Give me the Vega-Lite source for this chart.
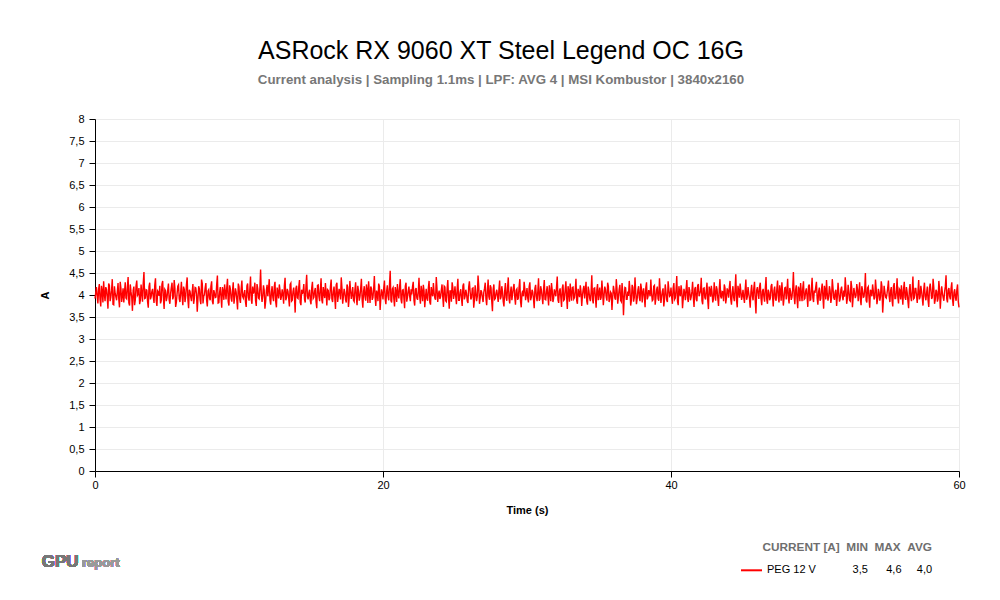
{
  "$schema": "https://vega.github.io/schema/vega-lite/v6.json",
  "width": 864,
  "height": 352,
  "autosize": {"type": "none"},
  "padding": {"left": 95, "top": 119, "right": 41, "bottom": 129},
  "background": "#ffffff",
  "config": {
    "view": {"stroke": null},
    "font": "Liberation Sans"
  },
  "title": {
    "text": "ASRock RX 9060 XT Steel Legend OC 16G",
    "subtitle": "Current analysis | Sampling 1.1ms | LPF: AVG 4 | MSI Kombustor | 3840x2160",
    "font": "Liberation Sans",
    "fontSize": 25,
    "fontWeight": "normal",
    "color": "#000000",
    "subtitleFont": "Liberation Sans",
    "subtitleFontSize": 13.3,
    "subtitleFontWeight": "bold",
    "subtitleColor": "#777777",
    "subtitlePadding": 9,
    "anchor": "middle",
    "dx": -26,
    "offset": 27
  },
  "resolve": {"axis": {"x": "independent", "y": "independent"}},
  "data": {"values": [
{"t":0,"v":3.92},{"t":0.1,"v":4.18},{"t":0.2,"v":3.81},{"t":0.3,"v":4.25},{"t":0.4,"v":3.74},{"t":0.5,"v":4.09},{"t":0.6,"v":4.31},{"t":0.7,"v":3.86},{"t":0.8,"v":4.12},{"t":0.9,"v":3.69},
{"t":1,"v":4.22},{"t":1.1,"v":3.95},{"t":1.2,"v":4.36},{"t":1.3,"v":3.78},{"t":1.4,"v":4.04},{"t":1.5,"v":3.88},{"t":1.6,"v":4.27},{"t":1.7,"v":3.72},{"t":1.8,"v":4.15},{"t":1.9,"v":3.98},
{"t":2,"v":3.83},{"t":2.1,"v":4.29},{"t":2.2,"v":3.91},{"t":2.3,"v":4.41},{"t":2.4,"v":3.76},{"t":2.5,"v":4.07},{"t":2.6,"v":3.64},{"t":2.7,"v":4.19},{"t":2.8,"v":3.89},{"t":2.9,"v":4.33},
{"t":3,"v":4.02},{"t":3.1,"v":3.79},{"t":3.2,"v":4.24},{"t":3.3,"v":3.85},{"t":3.4,"v":4.52},{"t":3.5,"v":3.93},{"t":3.6,"v":4.11},{"t":3.7,"v":3.71},{"t":3.8,"v":4.28},{"t":3.9,"v":3.96},
{"t":4,"v":4.14},{"t":4.1,"v":3.82},{"t":4.2,"v":4.38},{"t":4.3,"v":3.75},{"t":4.4,"v":4.06},{"t":4.5,"v":4.21},{"t":4.6,"v":3.87},{"t":4.7,"v":4.32},{"t":4.8,"v":3.68},{"t":4.9,"v":4.1},
{"t":5,"v":3.94},{"t":5.1,"v":4.26},{"t":5.2,"v":3.8},{"t":5.3,"v":4.17},{"t":5.4,"v":3.9},{"t":5.5,"v":4.34},{"t":5.6,"v":3.73},{"t":5.7,"v":4.03},{"t":5.8,"v":4.23},{"t":5.9,"v":3.84},
{"t":6,"v":4.3},{"t":6.1,"v":3.77},{"t":6.2,"v":4.13},{"t":6.3,"v":3.97},{"t":6.4,"v":4.4},{"t":6.5,"v":3.7},{"t":6.6,"v":4.08},{"t":6.7,"v":3.86},{"t":6.8,"v":4.25},{"t":6.9,"v":3.92},
{"t":7,"v":4.16},{"t":7.1,"v":3.62},{"t":7.2,"v":4.2},{"t":7.3,"v":3.89},{"t":7.4,"v":4.35},{"t":7.5,"v":3.81},{"t":7.6,"v":4.01},{"t":7.7,"v":4.27},{"t":7.8,"v":3.74},{"t":7.9,"v":4.12},
{"t":8,"v":3.88},{"t":8.1,"v":4.31},{"t":8.2,"v":3.79},{"t":8.3,"v":4.05},{"t":8.4,"v":3.95},{"t":8.5,"v":4.44},{"t":8.6,"v":3.83},{"t":8.7,"v":4.18},{"t":8.8,"v":3.71},{"t":8.9,"v":4.09},
{"t":9,"v":4.24},{"t":9.1,"v":3.9},{"t":9.2,"v":4.37},{"t":9.3,"v":3.76},{"t":9.4,"v":4.14},{"t":9.5,"v":3.85},{"t":9.6,"v":4.29},{"t":9.7,"v":3.96},{"t":9.8,"v":4.07},{"t":9.9,"v":3.67},
{"t":10,"v":4.19},{"t":10.1,"v":3.82},{"t":10.2,"v":4.33},{"t":10.3,"v":3.93},{"t":10.4,"v":4.11},{"t":10.5,"v":3.73},{"t":10.6,"v":4.26},{"t":10.7,"v":3.87},{"t":10.8,"v":4.42},{"t":10.9,"v":3.8},
{"t":11,"v":4.03},{"t":11.1,"v":4.28},{"t":11.2,"v":3.75},{"t":11.3,"v":4.15},{"t":11.4,"v":3.91},{"t":11.5,"v":4.58},{"t":11.6,"v":3.84},{"t":11.7,"v":4.22},{"t":11.8,"v":3.69},{"t":11.9,"v":4.1},
{"t":12,"v":3.97},{"t":12.1,"v":4.36},{"t":12.2,"v":3.78},{"t":12.3,"v":4.2},{"t":12.4,"v":3.86},{"t":12.5,"v":4.3},{"t":12.6,"v":3.72},{"t":12.7,"v":4.06},{"t":12.8,"v":4.24},{"t":12.9,"v":3.89},
{"t":13,"v":4.13},{"t":13.1,"v":3.8},{"t":13.2,"v":4.39},{"t":13.3,"v":3.94},{"t":13.4,"v":4.08},{"t":13.5,"v":3.74},{"t":13.6,"v":4.27},{"t":13.7,"v":3.88},{"t":13.8,"v":4.17},{"t":13.9,"v":3.6},
{"t":14,"v":4.21},{"t":14.1,"v":3.92},{"t":14.2,"v":4.34},{"t":14.3,"v":3.77},{"t":14.4,"v":4.02},{"t":14.5,"v":4.25},{"t":14.6,"v":3.83},{"t":14.7,"v":4.46},{"t":14.8,"v":3.9},{"t":14.9,"v":4.12},
{"t":15,"v":3.79},{"t":15.1,"v":4.3},{"t":15.2,"v":3.95},{"t":15.3,"v":4.16},{"t":15.4,"v":3.7},{"t":15.5,"v":4.23},{"t":15.6,"v":3.86},{"t":15.7,"v":4.38},{"t":15.8,"v":3.81},{"t":15.9,"v":4.05},
{"t":16,"v":4.27},{"t":16.1,"v":3.76},{"t":16.2,"v":4.1},{"t":16.3,"v":3.93},{"t":16.4,"v":4.35},{"t":16.5,"v":3.84},{"t":16.6,"v":4.19},{"t":16.7,"v":3.68},{"t":16.8,"v":4.28},{"t":16.9,"v":3.98},
{"t":17,"v":4.07},{"t":17.1,"v":4.4},{"t":17.2,"v":3.8},{"t":17.3,"v":4.14},{"t":17.4,"v":3.89},{"t":17.5,"v":4.24},{"t":17.6,"v":3.73},{"t":17.7,"v":4.32},{"t":17.8,"v":3.91},{"t":17.9,"v":4.18},
{"t":18,"v":3.85},{"t":18.1,"v":4.29},{"t":18.2,"v":3.77},{"t":18.3,"v":4.09},{"t":18.4,"v":3.96},{"t":18.5,"v":4.37},{"t":18.6,"v":3.71},{"t":18.7,"v":4.2},{"t":18.8,"v":3.87},{"t":18.9,"v":4.11},
{"t":19,"v":4.31},{"t":19.1,"v":3.82},{"t":19.2,"v":4.15},{"t":19.3,"v":3.94},{"t":19.4,"v":4.43},{"t":19.5,"v":3.75},{"t":19.6,"v":4.04},{"t":19.7,"v":4.26},{"t":19.8,"v":3.66},{"t":19.9,"v":4.13},
{"t":20,"v":3.9},{"t":20.1,"v":4.33},{"t":20.2,"v":3.79},{"t":20.3,"v":4.22},{"t":20.4,"v":3.88},{"t":20.5,"v":4.55},{"t":20.6,"v":3.83},{"t":20.7,"v":4.17},{"t":20.8,"v":3.74},{"t":20.9,"v":4.08},
{"t":21,"v":4.25},{"t":21.1,"v":3.92},{"t":21.2,"v":4.36},{"t":21.3,"v":3.81},{"t":21.4,"v":4.12},{"t":21.5,"v":3.7},{"t":21.6,"v":4.28},{"t":21.7,"v":3.95},{"t":21.8,"v":4.19},{"t":21.9,"v":3.86},
{"t":22,"v":4.01},{"t":22.1,"v":4.3},{"t":22.2,"v":3.76},{"t":22.3,"v":4.16},{"t":22.4,"v":3.89},{"t":22.5,"v":4.39},{"t":22.6,"v":3.8},{"t":22.7,"v":4.07},{"t":22.8,"v":4.23},{"t":22.9,"v":3.72},
{"t":23,"v":4.14},{"t":23.1,"v":3.87},{"t":23.2,"v":4.32},{"t":23.3,"v":3.78},{"t":23.4,"v":4.05},{"t":23.5,"v":4.27},{"t":23.6,"v":3.93},{"t":23.7,"v":4.41},{"t":23.8,"v":3.84},{"t":23.9,"v":4.1},
{"t":24,"v":3.96},{"t":24.1,"v":4.24},{"t":24.2,"v":3.73},{"t":24.3,"v":4.18},{"t":24.4,"v":3.85},{"t":24.5,"v":4.34},{"t":24.6,"v":3.69},{"t":24.7,"v":4.09},{"t":24.8,"v":4.29},{"t":24.9,"v":3.91},
{"t":25,"v":4.2},{"t":25.1,"v":3.79},{"t":25.2,"v":4.37},{"t":25.3,"v":3.88},{"t":25.4,"v":4.13},{"t":25.5,"v":3.75},{"t":25.6,"v":4.26},{"t":25.7,"v":3.97},{"t":25.8,"v":4.04},{"t":25.9,"v":3.82},
{"t":26,"v":4.31},{"t":26.1,"v":3.9},{"t":26.2,"v":4.15},{"t":26.3,"v":3.71},{"t":26.4,"v":4.22},{"t":26.5,"v":3.86},{"t":26.6,"v":4.44},{"t":26.7,"v":3.8},{"t":26.8,"v":4.11},{"t":26.9,"v":3.94},
{"t":27,"v":4.06},{"t":27.1,"v":4.28},{"t":27.2,"v":3.77},{"t":27.3,"v":4.35},{"t":27.4,"v":3.89},{"t":27.5,"v":4.17},{"t":27.6,"v":3.63},{"t":27.7,"v":4.24},{"t":27.8,"v":3.92},{"t":27.9,"v":4.12},
{"t":28,"v":3.84},{"t":28.1,"v":4.33},{"t":28.2,"v":3.96},{"t":28.3,"v":4.08},{"t":28.4,"v":3.74},{"t":28.5,"v":4.27},{"t":28.6,"v":3.87},{"t":28.7,"v":4.4},{"t":28.8,"v":3.81},{"t":28.9,"v":4.19},
{"t":29,"v":4.02},{"t":29.1,"v":4.25},{"t":29.2,"v":3.78},{"t":29.3,"v":4.14},{"t":29.4,"v":3.93},{"t":29.5,"v":4.36},{"t":29.6,"v":3.72},{"t":29.7,"v":4.1},{"t":29.8,"v":4.3},{"t":29.9,"v":3.88},
{"t":30,"v":4.16},{"t":30.1,"v":3.83},{"t":30.2,"v":4.29},{"t":30.3,"v":3.95},{"t":30.4,"v":4.07},{"t":30.5,"v":3.7},{"t":30.6,"v":4.23},{"t":30.7,"v":3.86},{"t":30.8,"v":4.38},{"t":30.9,"v":3.91},
{"t":31,"v":4.11},{"t":31.1,"v":3.79},{"t":31.2,"v":4.34},{"t":31.3,"v":3.89},{"t":31.4,"v":4.2},{"t":31.5,"v":3.76},{"t":31.6,"v":4.05},{"t":31.7,"v":4.27},{"t":31.8,"v":3.84},{"t":31.9,"v":4.13},
{"t":32,"v":3.97},{"t":32.1,"v":4.42},{"t":32.2,"v":3.82},{"t":32.3,"v":4.15},{"t":32.4,"v":3.73},{"t":32.5,"v":4.24},{"t":32.6,"v":3.9},{"t":32.7,"v":4.31},{"t":32.8,"v":3.68},{"t":32.9,"v":4.09},
{"t":33,"v":4.26},{"t":33.1,"v":3.87},{"t":33.2,"v":4.18},{"t":33.3,"v":3.94},{"t":33.4,"v":4.37},{"t":33.5,"v":3.8},{"t":33.6,"v":4.03},{"t":33.7,"v":4.22},{"t":33.8,"v":3.75},{"t":33.9,"v":4.12},
{"t":34,"v":3.92},{"t":34.1,"v":4.3},{"t":34.2,"v":3.78},{"t":34.3,"v":4.1},{"t":34.4,"v":3.86},{"t":34.5,"v":4.45},{"t":34.6,"v":3.81},{"t":34.7,"v":4.16},{"t":34.8,"v":3.71},{"t":34.9,"v":4.25},
{"t":35,"v":4.04},{"t":35.1,"v":3.89},{"t":35.2,"v":4.33},{"t":35.3,"v":3.77},{"t":35.4,"v":4.19},{"t":35.5,"v":3.95},{"t":35.6,"v":4.28},{"t":35.7,"v":3.84},{"t":35.8,"v":4.07},{"t":35.9,"v":3.66},
{"t":36,"v":4.21},{"t":36.1,"v":3.93},{"t":36.2,"v":4.36},{"t":36.3,"v":3.8},{"t":36.4,"v":4.13},{"t":36.5,"v":3.88},{"t":36.6,"v":4.27},{"t":36.7,"v":3.54},{"t":36.8,"v":4.17},{"t":36.9,"v":3.9},
{"t":37,"v":4.08},{"t":37.1,"v":4.32},{"t":37.2,"v":3.76},{"t":37.3,"v":4.23},{"t":37.4,"v":3.85},{"t":37.5,"v":4.4},{"t":37.6,"v":3.79},{"t":37.7,"v":4.11},{"t":37.8,"v":3.94},{"t":37.9,"v":4.26},
{"t":38,"v":3.83},{"t":38.1,"v":4.15},{"t":38.2,"v":3.72},{"t":38.3,"v":4.29},{"t":38.4,"v":3.96},{"t":38.5,"v":4.06},{"t":38.6,"v":4.35},{"t":38.7,"v":3.87},{"t":38.8,"v":4.2},{"t":38.9,"v":3.78},
{"t":39,"v":4.12},{"t":39.1,"v":3.91},{"t":39.2,"v":4.38},{"t":39.3,"v":3.82},{"t":39.4,"v":4.09},{"t":39.5,"v":3.74},{"t":39.6,"v":4.24},{"t":39.7,"v":3.89},{"t":39.8,"v":4.31},{"t":39.9,"v":3.97},
{"t":40,"v":4.17},{"t":40.1,"v":3.8},{"t":40.2,"v":4.27},{"t":40.3,"v":3.93},{"t":40.4,"v":4.43},{"t":40.5,"v":3.77},{"t":40.6,"v":4.05},{"t":40.7,"v":4.22},{"t":40.8,"v":3.7},{"t":40.9,"v":4.14},
{"t":41,"v":3.88},{"t":41.1,"v":4.34},{"t":41.2,"v":3.84},{"t":41.3,"v":4.1},{"t":41.4,"v":3.95},{"t":41.5,"v":4.3},{"t":41.6,"v":3.73},{"t":41.7,"v":4.18},{"t":41.8,"v":3.86},{"t":41.9,"v":4.25},
{"t":42,"v":4.03},{"t":42.1,"v":4.39},{"t":42.2,"v":3.79},{"t":42.3,"v":4.16},{"t":42.4,"v":3.9},{"t":42.5,"v":4.28},{"t":42.6,"v":3.68},{"t":42.7,"v":4.11},{"t":42.8,"v":4.21},{"t":42.9,"v":3.83},
{"t":43,"v":4.29},{"t":43.1,"v":3.87},{"t":43.2,"v":4.13},{"t":43.3,"v":3.75},{"t":43.4,"v":4.36},{"t":43.5,"v":3.92},{"t":43.6,"v":4.07},{"t":43.7,"v":4.24},{"t":43.8,"v":3.81},{"t":43.9,"v":4.15},
{"t":44,"v":3.94},{"t":44.1,"v":4.32},{"t":44.2,"v":3.78},{"t":44.3,"v":4.2},{"t":44.4,"v":3.86},{"t":44.5,"v":4.47},{"t":44.6,"v":3.72},{"t":44.7,"v":4.09},{"t":44.8,"v":4.26},{"t":44.9,"v":3.89},
{"t":45,"v":4.12},{"t":45.1,"v":3.82},{"t":45.2,"v":4.35},{"t":45.3,"v":3.96},{"t":45.4,"v":4.04},{"t":45.5,"v":3.71},{"t":45.6,"v":4.23},{"t":45.7,"v":3.88},{"t":45.8,"v":4.3},{"t":45.9,"v":3.58},
{"t":46,"v":4.18},{"t":46.1,"v":3.91},{"t":46.2,"v":4.28},{"t":46.3,"v":3.77},{"t":46.4,"v":4.14},{"t":46.5,"v":3.85},{"t":46.6,"v":4.41},{"t":46.7,"v":3.8},{"t":46.8,"v":4.06},{"t":46.9,"v":3.93},
{"t":47,"v":4.25},{"t":47.1,"v":3.74},{"t":47.2,"v":4.19},{"t":47.3,"v":3.87},{"t":47.4,"v":4.33},{"t":47.5,"v":3.83},{"t":47.6,"v":4.1},{"t":47.7,"v":4.29},{"t":47.8,"v":3.76},{"t":47.9,"v":4.16},
{"t":48,"v":3.9},{"t":48.1,"v":4.37},{"t":48.2,"v":3.81},{"t":48.3,"v":4.08},{"t":48.4,"v":3.95},{"t":48.5,"v":4.52},{"t":48.6,"v":3.79},{"t":48.7,"v":4.22},{"t":48.8,"v":3.7},{"t":48.9,"v":4.13},
{"t":49,"v":4.27},{"t":49.1,"v":3.86},{"t":49.2,"v":4.31},{"t":49.3,"v":3.92},{"t":49.4,"v":4.15},{"t":49.5,"v":3.73},{"t":49.6,"v":4.24},{"t":49.7,"v":3.89},{"t":49.8,"v":4.39},{"t":49.9,"v":3.84},
{"t":50,"v":4.05},{"t":50.1,"v":4.3},{"t":50.2,"v":3.78},{"t":50.3,"v":4.17},{"t":50.4,"v":3.91},{"t":50.5,"v":4.26},{"t":50.6,"v":3.69},{"t":50.7,"v":4.11},{"t":50.8,"v":4.34},{"t":50.9,"v":3.87},
{"t":51,"v":4.2},{"t":51.1,"v":3.82},{"t":51.2,"v":4.36},{"t":51.3,"v":3.94},{"t":51.4,"v":4.07},{"t":51.5,"v":3.75},{"t":51.6,"v":4.28},{"t":51.7,"v":3.85},{"t":51.8,"v":4.13},{"t":51.9,"v":3.97},
{"t":52,"v":4.1},{"t":52.1,"v":4.4},{"t":52.2,"v":3.8},{"t":52.3,"v":4.23},{"t":52.4,"v":3.88},{"t":52.5,"v":4.32},{"t":52.6,"v":3.72},{"t":52.7,"v":4.16},{"t":52.8,"v":3.93},{"t":52.9,"v":4.25},
{"t":53,"v":3.86},{"t":53.1,"v":4.29},{"t":53.2,"v":3.77},{"t":53.3,"v":4.12},{"t":53.4,"v":3.96},{"t":53.5,"v":4.5},{"t":53.6,"v":3.83},{"t":53.7,"v":4.19},{"t":53.8,"v":3.71},{"t":53.9,"v":4.08},
{"t":54,"v":4.24},{"t":54.1,"v":3.9},{"t":54.2,"v":4.35},{"t":54.3,"v":3.79},{"t":54.4,"v":4.14},{"t":54.5,"v":3.87},{"t":54.6,"v":4.31},{"t":54.7,"v":3.6},{"t":54.8,"v":4.21},{"t":54.9,"v":3.95},
{"t":55,"v":4.03},{"t":55.1,"v":4.33},{"t":55.2,"v":3.84},{"t":55.3,"v":4.18},{"t":55.4,"v":3.74},{"t":55.5,"v":4.27},{"t":55.6,"v":3.92},{"t":55.7,"v":4.38},{"t":55.8,"v":3.81},{"t":55.9,"v":4.11},
{"t":56,"v":4.22},{"t":56.1,"v":3.78},{"t":56.2,"v":4.3},{"t":56.3,"v":3.89},{"t":56.4,"v":4.06},{"t":56.5,"v":3.7},{"t":56.6,"v":4.25},{"t":56.7,"v":3.86},{"t":56.8,"v":4.42},{"t":56.9,"v":3.93},
{"t":57,"v":4.15},{"t":57.1,"v":3.82},{"t":57.2,"v":4.34},{"t":57.3,"v":3.96},{"t":57.4,"v":4.09},{"t":57.5,"v":3.76},{"t":57.6,"v":4.28},{"t":57.7,"v":3.88},{"t":57.8,"v":4.19},{"t":57.9,"v":3.73},
{"t":58,"v":4.26},{"t":58.1,"v":3.91},{"t":58.2,"v":4.37},{"t":58.3,"v":3.8},{"t":58.4,"v":4.12},{"t":58.5,"v":3.85},{"t":58.6,"v":4.32},{"t":58.7,"v":3.69},{"t":58.8,"v":4.2},{"t":58.9,"v":3.94},
{"t":59,"v":4.07},{"t":59.1,"v":4.45},{"t":59.2,"v":3.83},{"t":59.3,"v":4.16},{"t":59.4,"v":3.9},{"t":59.5,"v":4.29},{"t":59.6,"v":3.75},{"t":59.7,"v":4.13},{"t":59.8,"v":3.87},{"t":59.9,"v":4.24},
{"t":60,"v":3.72},
{"t":0.05,"v":4.05},{"t":0.15,"v":3.97},{"t":0.25,"v":4.13},{"t":0.35,"v":3.9},{"t":0.45,"v":4.21},{"t":0.55,"v":3.83},{"t":0.65,"v":4.02},{"t":0.75,"v":4.18},{"t":0.85,"v":3.94},{"t":0.95,"v":4.26},
{"t":1.05,"v":3.86},{"t":1.15,"v":4.11},{"t":1.25,"v":3.79},{"t":1.35,"v":4.2},{"t":1.45,"v":3.96},{"t":1.55,"v":4.08},{"t":1.65,"v":3.91},{"t":1.75,"v":4.3},{"t":1.85,"v":3.84},{"t":1.95,"v":4.15},
{"t":2.05,"v":4.07},{"t":2.15,"v":3.93},{"t":2.25,"v":4.18},{"t":2.35,"v":3.82},{"t":2.45,"v":4.24},{"t":2.55,"v":3.95},{"t":2.65,"v":4.1},{"t":2.75,"v":3.77},{"t":2.85,"v":4.21},{"t":2.95,"v":3.99},
{"t":3.05,"v":4.16},{"t":3.15,"v":3.88},{"t":3.25,"v":4.03},{"t":3.35,"v":4.27},{"t":3.45,"v":3.92},{"t":3.55,"v":4.12},{"t":3.65,"v":3.85},{"t":3.75,"v":4.19},{"t":3.85,"v":3.9},{"t":3.95,"v":4.08},
{"t":4.05,"v":3.95},{"t":4.15,"v":4.22},{"t":4.25,"v":3.87},{"t":4.35,"v":4.09},{"t":4.45,"v":3.98},{"t":4.55,"v":3.81},{"t":4.65,"v":4.25},{"t":4.75,"v":3.94},{"t":4.85,"v":4.13},{"t":4.95,"v":3.86},
{"t":5.05,"v":4.11},{"t":5.15,"v":3.89},{"t":5.25,"v":4.04},{"t":5.35,"v":4.28},{"t":5.45,"v":3.96},{"t":5.55,"v":4.15},{"t":5.65,"v":3.83},{"t":5.75,"v":4.2},{"t":5.85,"v":3.91},{"t":5.95,"v":4.06},
{"t":6.05,"v":3.97},{"t":6.15,"v":4.19},{"t":6.25,"v":3.84},{"t":6.35,"v":4.23},{"t":6.45,"v":3.9},{"t":6.55,"v":4.12},{"t":6.65,"v":3.95},{"t":6.75,"v":4.07},{"t":6.85,"v":3.8},{"t":6.95,"v":4.17},
{"t":7.05,"v":4.02},{"t":7.15,"v":3.92},{"t":7.25,"v":4.14},{"t":7.35,"v":3.79},{"t":7.45,"v":4.26},{"t":7.55,"v":3.97},{"t":7.65,"v":4.16},{"t":7.75,"v":3.88},{"t":7.85,"v":4.09},{"t":7.95,"v":3.93},
{"t":8.05,"v":4.2},{"t":8.15,"v":3.86},{"t":8.25,"v":4.11},{"t":8.35,"v":3.94},{"t":8.45,"v":4.24},{"t":8.55,"v":3.82},{"t":8.65,"v":4.05},{"t":8.75,"v":3.96},{"t":8.85,"v":4.18},{"t":8.95,"v":3.89},
{"t":9.05,"v":4.07},{"t":9.15,"v":4.17},{"t":9.25,"v":3.85},{"t":9.35,"v":4.22},{"t":9.45,"v":3.93},{"t":9.55,"v":4.1},{"t":9.65,"v":3.8},{"t":9.75,"v":4.15},{"t":9.85,"v":3.88},{"t":9.95,"v":4.26},
{"t":10.05,"v":3.91},{"t":10.15,"v":4.14},{"t":10.25,"v":3.97},{"t":10.35,"v":4.03},{"t":10.45,"v":3.84},{"t":10.55,"v":4.21},{"t":10.65,"v":3.95},{"t":10.75,"v":4.12},{"t":10.85,"v":3.9},{"t":10.95,"v":4.19},
{"t":11.05,"v":4.09},{"t":11.15,"v":3.87},{"t":11.25,"v":4.25},{"t":11.35,"v":3.93},{"t":11.45,"v":4.16},{"t":11.55,"v":4.02},{"t":11.65,"v":3.98},{"t":11.75,"v":4.11},{"t":11.85,"v":3.85},{"t":11.95,"v":4.23},
{"t":12.05,"v":4.13},{"t":12.15,"v":3.89},{"t":12.25,"v":4.06},{"t":12.35,"v":3.95},{"t":12.45,"v":4.19},{"t":12.55,"v":3.84},{"t":12.65,"v":4.17},{"t":12.75,"v":3.92},{"t":12.85,"v":4.1},{"t":12.95,"v":3.97},
{"t":13.05,"v":4.01},{"t":13.15,"v":4.21},{"t":13.25,"v":3.88},{"t":13.35,"v":4.14},{"t":13.45,"v":3.93},{"t":13.55,"v":4.24},{"t":13.65,"v":3.86},{"t":13.75,"v":4.08},{"t":13.85,"v":3.96},{"t":13.95,"v":4.15},
{"t":14.05,"v":3.94},{"t":14.15,"v":4.18},{"t":14.25,"v":3.83},{"t":14.35,"v":4.12},{"t":14.45,"v":4.07},{"t":14.55,"v":3.9},{"t":14.65,"v":4.2},{"t":14.75,"v":3.97},{"t":14.85,"v":4.05},{"t":14.95,"v":3.87},
{"t":15.05,"v":4.16},{"t":15.15,"v":3.92},{"t":15.25,"v":4.09},{"t":15.35,"v":3.85},{"t":15.45,"v":4.22},{"t":15.55,"v":3.96},{"t":15.65,"v":4.13},{"t":15.75,"v":3.89},{"t":15.85,"v":4.18},{"t":15.95,"v":3.93},
{"t":16.05,"v":4.04},{"t":16.15,"v":4.12},{"t":16.25,"v":3.88},{"t":16.35,"v":4.19},{"t":16.45,"v":3.91},{"t":16.55,"v":4.07},{"t":16.65,"v":3.95},{"t":16.75,"v":4.23},{"t":16.85,"v":3.84},{"t":16.95,"v":4.14},
{"t":17.05,"v":3.9},{"t":17.15,"v":4.16},{"t":17.25,"v":3.97},{"t":17.35,"v":4.06},{"t":17.45,"v":3.83},{"t":17.55,"v":4.18},{"t":17.65,"v":3.92},{"t":17.75,"v":4.1},{"t":17.85,"v":4.02},{"t":17.95,"v":3.88},
{"t":18.05,"v":4.12},{"t":18.15,"v":3.94},{"t":18.25,"v":4.21},{"t":18.35,"v":3.87},{"t":18.45,"v":4.15},{"t":18.55,"v":3.9},{"t":18.65,"v":4.08},{"t":18.75,"v":3.96},{"t":18.85,"v":4.24},{"t":18.95,"v":3.82},
{"t":19.05,"v":4.06},{"t":19.15,"v":4.19},{"t":19.25,"v":3.89},{"t":19.35,"v":4.13},{"t":19.45,"v":3.95},{"t":19.55,"v":4.1},{"t":19.65,"v":3.86},{"t":19.75,"v":4.2},{"t":19.85,"v":3.93},{"t":19.95,"v":4.04},
{"t":20.05,"v":4.15},{"t":20.15,"v":3.91},{"t":20.25,"v":4.08},{"t":20.35,"v":3.97},{"t":20.45,"v":4.22},{"t":20.55,"v":3.87},{"t":20.65,"v":4.14},{"t":20.75,"v":3.92},{"t":20.85,"v":4.18},{"t":20.95,"v":3.84},
{"t":21.05,"v":4.03},{"t":21.15,"v":4.17},{"t":21.25,"v":3.9},{"t":21.35,"v":4.11},{"t":21.45,"v":3.94},{"t":21.55,"v":4.2},{"t":21.65,"v":3.85},{"t":21.75,"v":4.09},{"t":21.85,"v":3.98},{"t":21.95,"v":4.13},
{"t":22.05,"v":4.19},{"t":22.15,"v":3.88},{"t":22.25,"v":4.12},{"t":22.35,"v":3.93},{"t":22.45,"v":4.07},{"t":22.55,"v":3.96},{"t":22.65,"v":4.21},{"t":22.75,"v":3.86},{"t":22.85,"v":4.1},{"t":22.95,"v":3.95},
{"t":23.05,"v":3.92},{"t":23.15,"v":4.16},{"t":23.25,"v":3.84},{"t":23.35,"v":4.18},{"t":23.45,"v":3.97},{"t":23.55,"v":4.05},{"t":23.65,"v":3.89},{"t":23.75,"v":4.14},{"t":23.85,"v":4.02},{"t":23.95,"v":3.91},
{"t":24.05,"v":4.11},{"t":24.15,"v":3.95},{"t":24.25,"v":4.2},{"t":24.35,"v":3.87},{"t":24.45,"v":4.13},{"t":24.55,"v":3.93},{"t":24.65,"v":4.09},{"t":24.75,"v":3.85},{"t":24.85,"v":4.17},{"t":24.95,"v":4.03},
{"t":25.05,"v":3.96},{"t":25.15,"v":4.14},{"t":25.25,"v":3.88},{"t":25.35,"v":4.06},{"t":25.45,"v":3.92},{"t":25.55,"v":4.21},{"t":25.65,"v":3.9},{"t":25.75,"v":4.12},{"t":25.85,"v":3.86},{"t":25.95,"v":4.18},
{"t":26.05,"v":4.08},{"t":26.15,"v":3.94},{"t":26.25,"v":4.16},{"t":26.35,"v":3.89},{"t":26.45,"v":4.04},{"t":26.55,"v":3.97},{"t":26.65,"v":4.19},{"t":26.75,"v":3.93},{"t":26.85,"v":4.07},{"t":26.95,"v":3.84},
{"t":27.05,"v":4.15},{"t":27.15,"v":3.91},{"t":27.25,"v":4.1},{"t":27.35,"v":3.96},{"t":27.45,"v":4.22},{"t":27.55,"v":3.87},{"t":27.65,"v":4.13},{"t":27.75,"v":3.9},{"t":27.85,"v":4.05},{"t":27.95,"v":3.98},
{"t":28.05,"v":4.12},{"t":28.15,"v":3.9},{"t":28.25,"v":4.2},{"t":28.35,"v":3.85},{"t":28.45,"v":4.09},{"t":28.55,"v":3.94},{"t":28.65,"v":4.17},{"t":28.75,"v":3.92},{"t":28.85,"v":4.06},{"t":28.95,"v":3.88},
{"t":29.05,"v":4.16},{"t":29.15,"v":3.95},{"t":29.25,"v":4.11},{"t":29.35,"v":3.89},{"t":29.45,"v":4.18},{"t":29.55,"v":3.86},{"t":29.65,"v":4.03},{"t":29.75,"v":3.97},{"t":29.85,"v":4.14},{"t":29.95,"v":4.01},
{"t":30.05,"v":3.93},{"t":30.15,"v":4.19},{"t":30.25,"v":3.88},{"t":30.35,"v":4.12},{"t":30.45,"v":3.91},{"t":30.55,"v":4.15},{"t":30.65,"v":3.97},{"t":30.75,"v":4.08},{"t":30.85,"v":3.87},{"t":30.95,"v":4.2},
{"t":31.05,"v":3.95},{"t":31.15,"v":4.13},{"t":31.25,"v":3.9},{"t":31.35,"v":4.07},{"t":31.45,"v":3.98},{"t":31.55,"v":4.22},{"t":31.65,"v":3.86},{"t":31.75,"v":4.11},{"t":31.85,"v":3.93},{"t":31.95,"v":4.05},
{"t":32.05,"v":4.18},{"t":32.15,"v":3.89},{"t":32.25,"v":4.09},{"t":32.35,"v":3.94},{"t":32.45,"v":4.16},{"t":32.55,"v":3.88},{"t":32.65,"v":4.12},{"t":32.75,"v":3.96},{"t":32.85,"v":4.2},{"t":32.95,"v":3.85},
{"t":33.05,"v":4.04},{"t":33.15,"v":4.17},{"t":33.25,"v":3.91},{"t":33.35,"v":4.1},{"t":33.45,"v":3.87},{"t":33.55,"v":4.14},{"t":33.65,"v":3.95},{"t":33.75,"v":4.08},{"t":33.85,"v":3.99},{"t":33.95,"v":4.21},
{"t":34.05,"v":4.11},{"t":34.15,"v":3.86},{"t":34.25,"v":4.19},{"t":34.35,"v":3.93},{"t":34.45,"v":4.06},{"t":34.55,"v":3.9},{"t":34.65,"v":4.15},{"t":34.75,"v":3.96},{"t":34.85,"v":4.12},{"t":34.95,"v":3.88},
{"t":35.05,"v":4.17},{"t":35.15,"v":3.94},{"t":35.25,"v":4.09},{"t":35.35,"v":3.98},{"t":35.45,"v":4.13},{"t":35.55,"v":3.87},{"t":35.65,"v":4.2},{"t":35.75,"v":3.92},{"t":35.85,"v":4.04},{"t":35.95,"v":3.95},
{"t":36.05,"v":4.1},{"t":36.15,"v":3.89},{"t":36.25,"v":4.14},{"t":36.35,"v":3.96},{"t":36.45,"v":4.23},{"t":36.55,"v":3.85},{"t":36.65,"v":4.07},{"t":36.75,"v":3.93},{"t":36.85,"v":4.16},{"t":36.95,"v":3.9},
{"t":37.05,"v":3.98},{"t":37.15,"v":4.12},{"t":37.25,"v":3.88},{"t":37.35,"v":4.18},{"t":37.45,"v":3.94},{"t":37.55,"v":4.08},{"t":37.65,"v":3.91},{"t":37.75,"v":4.2},{"t":37.85,"v":3.86},{"t":37.95,"v":4.14},
{"t":38.05,"v":4.06},{"t":38.15,"v":3.95},{"t":38.25,"v":4.17},{"t":38.35,"v":3.9},{"t":38.45,"v":4.11},{"t":38.55,"v":3.97},{"t":38.65,"v":4.04},{"t":38.75,"v":3.89},{"t":38.85,"v":4.22},{"t":38.95,"v":3.93},
{"t":39.05,"v":4.19},{"t":39.15,"v":3.87},{"t":39.25,"v":4.1},{"t":39.35,"v":3.96},{"t":39.45,"v":4.15},{"t":39.55,"v":3.91},{"t":39.65,"v":4.07},{"t":39.75,"v":3.84},{"t":39.85,"v":4.13},{"t":39.95,"v":3.99},
{"t":40.05,"v":3.94},{"t":40.15,"v":4.16},{"t":40.25,"v":3.9},{"t":40.35,"v":4.12},{"t":40.45,"v":3.86},{"t":40.55,"v":4.2},{"t":40.65,"v":3.97},{"t":40.75,"v":4.09},{"t":40.85,"v":3.92},{"t":40.95,"v":4.05},
{"t":41.05,"v":4.13},{"t":41.15,"v":3.93},{"t":41.25,"v":4.18},{"t":41.35,"v":3.88},{"t":41.45,"v":4.07},{"t":41.55,"v":3.95},{"t":41.65,"v":4.14},{"t":41.75,"v":3.9},{"t":41.85,"v":4.21},{"t":41.95,"v":3.97},
{"t":42.05,"v":4.09},{"t":42.15,"v":3.87},{"t":42.25,"v":4.15},{"t":42.35,"v":3.94},{"t":42.45,"v":4.11},{"t":42.55,"v":3.89},{"t":42.65,"v":4.19},{"t":42.75,"v":3.96},{"t":42.85,"v":4.06},{"t":42.95,"v":3.91},
{"t":43.05,"v":4.03},{"t":43.15,"v":4.2},{"t":43.25,"v":3.92},{"t":43.35,"v":4.13},{"t":43.45,"v":3.97},{"t":43.55,"v":4.08},{"t":43.65,"v":3.86},{"t":43.75,"v":4.16},{"t":43.85,"v":3.93},{"t":43.95,"v":4.1},
{"t":44.05,"v":4.17},{"t":44.15,"v":3.9},{"t":44.25,"v":4.05},{"t":44.35,"v":3.95},{"t":44.45,"v":4.14},{"t":44.55,"v":3.88},{"t":44.65,"v":4.21},{"t":44.75,"v":3.94},{"t":44.85,"v":4.09},{"t":44.95,"v":3.98},
{"t":45.05,"v":3.95},{"t":45.15,"v":4.12},{"t":45.25,"v":3.89},{"t":45.35,"v":4.18},{"t":45.45,"v":3.92},{"t":45.55,"v":4.07},{"t":45.65,"v":3.98},{"t":45.75,"v":4.15},{"t":45.85,"v":3.87},{"t":45.95,"v":4.11},
{"t":46.05,"v":4.04},{"t":46.15,"v":4.19},{"t":46.25,"v":3.93},{"t":46.35,"v":4.08},{"t":46.45,"v":3.96},{"t":46.55,"v":4.16},{"t":46.65,"v":3.9},{"t":46.75,"v":4.12},{"t":46.85,"v":3.88},{"t":46.95,"v":4.2},
{"t":47.05,"v":3.97},{"t":47.15,"v":4.1},{"t":47.25,"v":3.91},{"t":47.35,"v":4.14},{"t":47.45,"v":3.95},{"t":47.55,"v":4.22},{"t":47.65,"v":3.87},{"t":47.75,"v":4.06},{"t":47.85,"v":3.93},{"t":47.95,"v":4.17},
{"t":48.05,"v":4.08},{"t":48.15,"v":3.94},{"t":48.25,"v":4.16},{"t":48.35,"v":3.89},{"t":48.45,"v":4.13},{"t":48.55,"v":3.97},{"t":48.65,"v":4.11},{"t":48.75,"v":3.92},{"t":48.85,"v":4.19},{"t":48.95,"v":3.86},
{"t":49.05,"v":4.05},{"t":49.15,"v":4.15},{"t":49.25,"v":3.9},{"t":49.35,"v":4.09},{"t":49.45,"v":3.96},{"t":49.55,"v":4.2},{"t":49.65,"v":3.88},{"t":49.75,"v":4.14},{"t":49.85,"v":3.94},{"t":49.95,"v":4.1},
{"t":50.05,"v":4.18},{"t":50.15,"v":3.92},{"t":50.25,"v":4.07},{"t":50.35,"v":3.87},{"t":50.45,"v":4.13},{"t":50.55,"v":3.95},{"t":50.65,"v":4.21},{"t":50.75,"v":3.9},{"t":50.85,"v":4.03},{"t":50.95,"v":3.97},
{"t":51.05,"v":4.1},{"t":51.15,"v":3.93},{"t":51.25,"v":4.16},{"t":51.35,"v":3.89},{"t":51.45,"v":4.12},{"t":51.55,"v":3.96},{"t":51.65,"v":4.06},{"t":51.75,"v":3.91},{"t":51.85,"v":4.19},{"t":51.95,"v":3.88},
{"t":52.05,"v":3.96},{"t":52.15,"v":4.14},{"t":52.25,"v":3.92},{"t":52.35,"v":4.09},{"t":52.45,"v":3.86},{"t":52.55,"v":4.18},{"t":52.65,"v":3.94},{"t":52.75,"v":4.05},{"t":52.85,"v":3.99},{"t":52.95,"v":4.13},
{"t":53.05,"v":4.07},{"t":53.15,"v":3.9},{"t":53.25,"v":4.2},{"t":53.35,"v":3.95},{"t":53.45,"v":4.11},{"t":53.55,"v":3.88},{"t":53.65,"v":4.16},{"t":53.75,"v":3.93},{"t":53.85,"v":4.12},{"t":53.95,"v":3.97},
{"t":54.05,"v":4.09},{"t":54.15,"v":3.94},{"t":54.25,"v":4.14},{"t":54.35,"v":3.91},{"t":54.45,"v":4.06},{"t":54.55,"v":3.96},{"t":54.65,"v":4.19},{"t":54.75,"v":3.89},{"t":54.85,"v":4.08},{"t":54.95,"v":3.93},
{"t":55.05,"v":4.16},{"t":55.15,"v":3.97},{"t":55.25,"v":4.1},{"t":55.35,"v":3.88},{"t":55.45,"v":4.2},{"t":55.55,"v":3.92},{"t":55.65,"v":4.07},{"t":55.75,"v":3.95},{"t":55.85,"v":4.14},{"t":55.95,"v":3.9},
{"t":56.05,"v":4.02},{"t":56.15,"v":4.13},{"t":56.25,"v":3.94},{"t":56.35,"v":4.18},{"t":56.45,"v":3.87},{"t":56.55,"v":4.11},{"t":56.65,"v":3.96},{"t":56.75,"v":4.09},{"t":56.85,"v":3.91},{"t":56.95,"v":4.15},
{"t":57.05,"v":3.98},{"t":57.15,"v":4.07},{"t":57.25,"v":3.9},{"t":57.35,"v":4.21},{"t":57.45,"v":3.93},{"t":57.55,"v":4.12},{"t":57.65,"v":3.97},{"t":57.75,"v":4.05},{"t":57.85,"v":3.88},{"t":57.95,"v":4.16},
{"t":58.05,"v":4.1},{"t":58.15,"v":3.95},{"t":58.25,"v":4.17},{"t":58.35,"v":3.89},{"t":58.45,"v":4.08},{"t":58.55,"v":3.92},{"t":58.65,"v":4.13},{"t":58.75,"v":3.96},{"t":58.85,"v":4.04},{"t":58.95,"v":3.87},
{"t":59.05,"v":4.19},{"t":59.15,"v":3.91},{"t":59.25,"v":4.11},{"t":59.35,"v":3.97},{"t":59.45,"v":4.15},{"t":59.55,"v":3.9},{"t":59.65,"v":4.06},{"t":59.75,"v":3.94},{"t":59.85,"v":4.12},{"t":59.95,"v":3.85}
  ]},
  "layer": [
    {
      "mark": {"type": "line", "strokeWidth": 1.4, "interpolate": "linear"},
      "encoding": {
        "x": {
          "field": "t", "type": "quantitative",
          "sort": "ascending",
          "scale": {"domain": [0, 60], "nice": false, "zero": false},
          "axis": {
            "title": "Time (s)",
            "titleFont": "Liberation Sans", "titleFontSize": 11, "titleFontWeight": "bold", "titleColor": "#000000",
            "titlePadding": 14,
            "values": [0, 20, 40, 60],
            "labelFont": "Liberation Sans", "labelFontSize": 11, "labelColor": "#000000",
            "labelPadding": 2, "tickSize": 6, "tickColor": "#000000", "domainColor": "#000000",
            "gridColor": "#ebebeb", "grid": true, "labelFlush": false
          }
        },
        "y": {
          "field": "v", "type": "quantitative",
          "scale": {"domain": [0, 8], "nice": false},
          "axis": {
            "title": "A",
            "titleFont": "Liberation Sans", "titleFontSize": 11, "titleFontWeight": "bold", "titleColor": "#000000",
            "titlePadding": 18,
            "values": [0, 0.5, 1, 1.5, 2, 2.5, 3, 3.5, 4, 4.5, 5, 5.5, 6, 6.5, 7, 7.5, 8],
            "labelExpr": "replace(format(datum.value, '.1~f'), '.', ',')",
            "labelFont": "Liberation Sans", "labelFontSize": 11, "labelColor": "#000000",
            "labelPadding": 5, "tickSize": 6, "tickColor": "#000000", "domainColor": "#000000",
            "gridColor": "#ebebeb", "grid": true, "labelOverlap": false
          }
        },
        "color": {
          "datum": "PEG 12 V",
          "scale": {"range": ["#ff0000"]},
          "legend": {
            "orient": "none",
            "legendX": 645,
            "legendY": 423,
            "title": "CURRENT [A]\u00a0\u00a0MIN\u00a0\u00a0MAX\u00a0\u00a0AVG",
            "titleAnchor": "end",
            "titleFont": "Liberation Sans", "titleFontSize": 11.8, "titleFontWeight": "bold", "titleColor": "#6e6e6e",
            "titlePadding": 5,
            "symbolType": "stroke", "symbolSize": 440, "symbolStrokeWidth": 2,
            "labelFont": "Liberation Sans", "labelFontSize": 11, "labelColor": "#000000",
            "labelExpr": "'PEG 12 V\u00a0\u00a0\u00a0\u00a0\u00a0\u00a0\u00a0\u00a0\u00a0\u00a0\u00a0\u00a03,5\u00a0\u00a0\u00a0\u00a0\u00a0\u00a04,6\u00a0\u00a0\u00a0\u00a0\u00a04,0\u00a0'",
            "labelLimit": 300
          }
        }
      }
    },
    {
      "mark": {"type": "text", "font": "Liberation Sans", "fontSize": 17, "fontWeight": "bold", "color": "#777777", "align": "left", "baseline": "alphabetic", "clip": false},
      "encoding": {
        "x": {"datum": -3.7, "type": "quantitative", "axis": null},
        "y": {"datum": -2.18, "type": "quantitative", "axis": null},
        "text": {"value": "GPU"}
      }
    },
    {
      "mark": {"type": "text", "font": "Liberation Sans", "fontSize": 13, "fontWeight": "bold", "color": "#999999", "align": "left", "baseline": "alphabetic", "clip": false},
      "encoding": {
        "x": {"datum": -0.9, "type": "quantitative", "axis": null},
        "y": {"datum": -2.18, "type": "quantitative", "axis": null},
        "text": {"value": "report"}
      }
    }
  ]
}
